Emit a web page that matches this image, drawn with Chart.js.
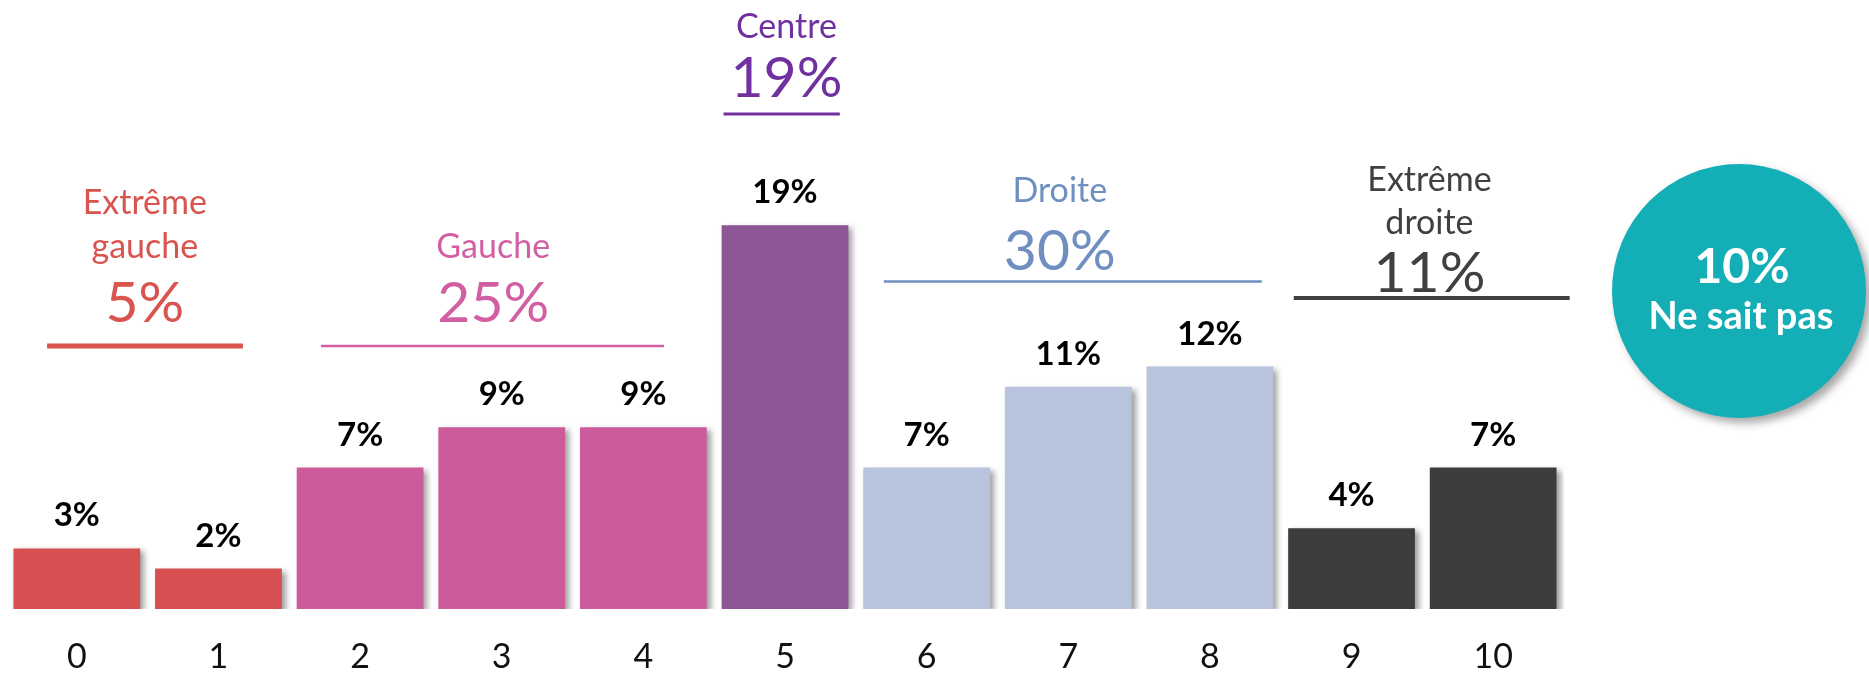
<!DOCTYPE html>
<html lang="fr">
<head>
<meta charset="utf-8">
<title>Positionnement politique</title>
<script src="https://cdn.jsdelivr.net/npm/chart.js@4/dist/chart.umd.min.js"></script>
<style>
  html, body { margin: 0; padding: 0; background: #fff; }
  canvas { display: block; }
</style>
</head>
<body>
<canvas id="echelle" width="1869" height="673"></canvas>
<script>
// echelle gauche-droite, 0 a 10
const positions = ['0', '1', '2', '3', '4', '5', '6', '7', '8', '9', '10'];
const parts = [3, 2, 7, 9, 9, 19, 7, 11, 12, 4, 7];

// regroupements
const groupNames = ['Extrême gauche', 'Gauche', 'Centre', 'Droite', 'Extrême droite'];
const groupTotals = [5, 25, 19, 30, 11];
const groupFirst = [0, 2, 5, 6, 9];
const groupLast = [1, 4, 5, 8, 10];

const nsp = 10;
const nspLabel = 'Ne sait pas';

// styles
const barColors = ['#d65051', '#cc5b9c', '#8e5597', '#b8c4dd', '#3d3d3d'];
const textColors = ['#d9534f', '#d35fa3', '#7030a0', '#6f8fc1', '#404040'];
const FONT = 'Lato, "Open Sans", sans-serif';

// placement des titres de groupe : x en unites de categorie, y en pixels (lignes de base)
const groupLayout = [
  { center: 0.48, from: -0.21, to: 1.173, nameY: [214, 258], pctY: 322, ruleY: 346, rule: 5 },
  { center: 2.94, from: 1.724, to: 4.145, nameY: [258], pctY: 322, ruleY: 346, rule: 2.5 },
  { center: 5.01, from: 4.566, to: 5.387, nameY: [38], pctY: 97, ruleY: 114, rule: 3 },
  { center: 6.94, from: 5.698, to: 8.366, nameY: [202], pctY: 270, ruleY: 281.5, rule: 2.5 },
  { center: 9.55, from: 8.592, to: 10.54, nameY: [191, 234], pctY: 292, ruleY: 298, rule: 4 }
];

function groupOf(i) {
  for (let g = 0; g < groupFirst.length; g++) {
    if (i >= groupFirst[g] && i <= groupLast[g]) return g;
  }
  return 0;
}

const colors = positions.map((p, i) => barColors[groupOf(i)]);

const barShadow = {
  id: 'barShadow',
  beforeDatasetsDraw(chart) {
    const ctx = chart.ctx;
    ctx.save();
    ctx.shadowColor = 'rgba(0,0,0,0.38)';
    ctx.shadowBlur = 6;
    ctx.shadowOffsetX = 4;
    ctx.shadowOffsetY = 3;
  },
  afterDatasetsDraw(chart) {
    chart.ctx.restore();
  }
};

const valueLabels = {
  id: 'valueLabels',
  afterDatasetsDraw(chart) {
    const ctx = chart.ctx;
    const meta = chart.getDatasetMeta(0);
    ctx.save();
    ctx.font = 'bold 33px ' + FONT;
    ctx.fillStyle = '#000';
    ctx.textAlign = 'center';
    ctx.textBaseline = 'alphabetic';
    meta.data.forEach((bar, i) => {
      ctx.fillText(parts[i] + '%', bar.x, bar.y - 22);
    });
    ctx.restore();
  }
};

const groupTitles = {
  id: 'groupTitles',
  afterDraw(chart) {
    const ctx = chart.ctx;
    const x = chart.scales.x;
    ctx.save();
    ctx.textAlign = 'center';
    ctx.textBaseline = 'alphabetic';
    groupNames.forEach((name, g) => {
      const lay = groupLayout[g];
      const cx = x.getPixelForValue(lay.center);
      ctx.fillStyle = textColors[g];
      ctx.font = '34px ' + FONT;
      const words = lay.nameY.length > 1 ? name.split(' ') : [name];
      words.forEach((w, k) => ctx.fillText(w, cx, lay.nameY[k]));
      ctx.font = '57px ' + FONT;
      ctx.fillText(groupTotals[g] + '%', cx, lay.pctY);
      const x0 = x.getPixelForValue(lay.from);
      const x1 = x.getPixelForValue(lay.to);
      ctx.fillRect(x0, lay.ruleY - lay.rule / 2, x1 - x0, lay.rule);
    });

    // pastille "ne sait pas"
    const r = 127;
    const cx = chart.chartArea.right + 48 + r;
    const cy = 291;
    ctx.save();
    ctx.shadowColor = 'rgba(0,0,0,0.35)';
    ctx.shadowBlur = 8;
    ctx.shadowOffsetX = 5;
    ctx.shadowOffsetY = 5;
    ctx.fillStyle = '#14aeb6';
    ctx.beginPath();
    ctx.arc(cx, cy, r, 0, Math.PI * 2);
    ctx.fill();
    ctx.restore();
    ctx.fillStyle = '#fff';
    ctx.font = 'bold 48px ' + FONT;
    ctx.fillText(nsp + '%', cx + 3, 283);
    ctx.font = 'bold 38px ' + FONT;
    ctx.fillText(nspLabel, cx + 2, 329);
    ctx.restore();
  }
};

new Chart(document.getElementById('echelle'), {
  type: 'bar',
  data: {
    labels: positions,
    datasets: [{
      data: parts,
      backgroundColor: colors,
      borderWidth: 0,
      barPercentage: 0.895,
      categoryPercentage: 1
    }]
  },
  options: {
    responsive: false,
    animation: false,
    devicePixelRatio: 1,
    layout: { padding: { left: 6, right: 305, top: 3, bottom: 0 } },
    plugins: { legend: { display: false }, tooltip: { enabled: false } },
    scales: {
      x: {
        grid: { display: false, drawTicks: false },
        border: { display: false },
        ticks: { color: '#111', font: { family: FONT, size: 34 }, padding: 28 },
        afterFit(scale) { scale.height = 64; }
      },
      y: { display: false, min: 0, max: 30 }
    }
  },
  plugins: [barShadow, valueLabels, groupTitles]
});
</script>
</body>
</html>
